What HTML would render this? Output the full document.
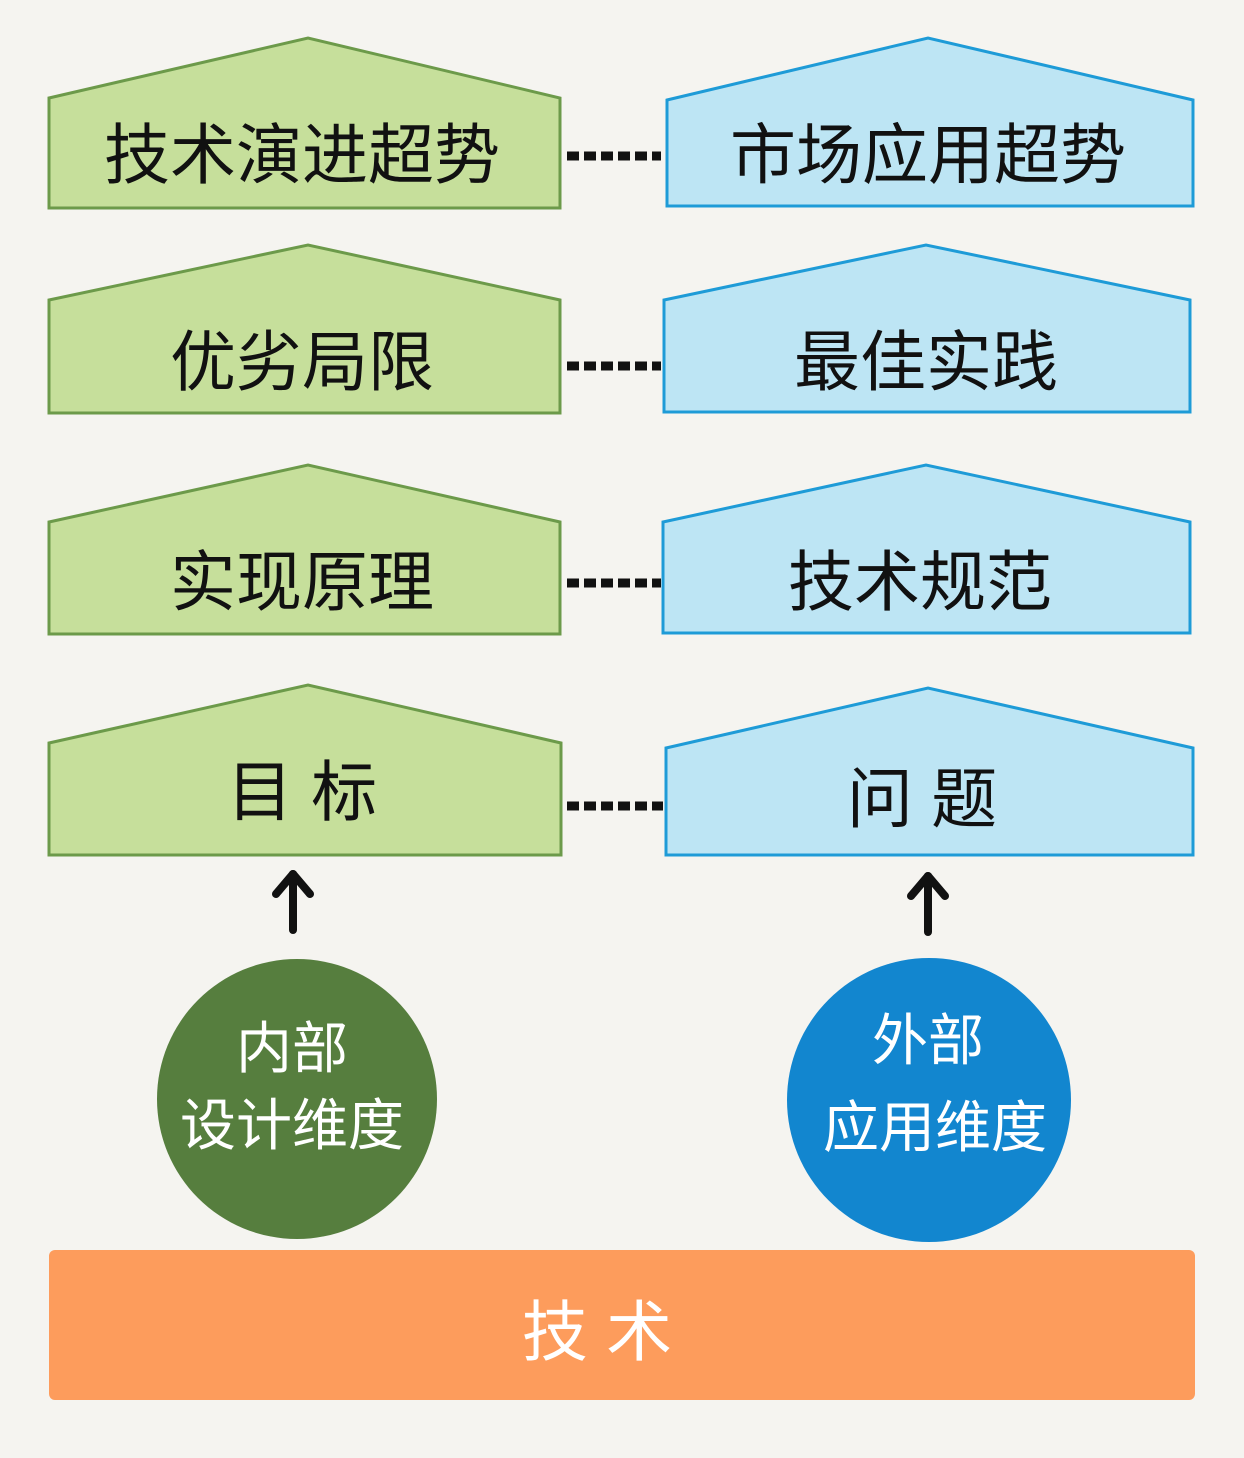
<!DOCTYPE html>
<html><head><meta charset="utf-8"><style>
html,body{margin:0;padding:0;background:#f5f4f0;}
svg{display:block}
text{font-family:"Liberation Sans","Noto Sans CJK SC",sans-serif;text-anchor:middle;}
</style></head><body>
<svg width="1244" height="1458" viewBox="0 0 1244 1458" xmlns="http://www.w3.org/2000/svg">
<rect width="1244" height="1458" fill="#f5f4f0"/>
<g stroke="#6c9a4a" stroke-width="3" fill="#c6df9b">
<polygon points="49,98 308,38 560,98 560,208 49,208"/>
<polygon points="49,300 308,245 560,300 560,413 49,413"/>
<polygon points="49,522 308,465 560,522 560,634 49,634"/>
<polygon points="49,743 308,685 561,743 561,855 49,855"/>
</g>
<g stroke="#1e9bd7" stroke-width="3" fill="#bde5f4">
<polygon points="667,100 928,38 1193,100 1193,206 667,206"/>
<polygon points="664,300 926,245 1190,300 1190,412 664,412"/>
<polygon points="663,522 926,465 1190,522 1190,633 663,633"/>
<polygon points="666,748 928,688 1193,748 1193,855 666,855"/>
</g>
<g stroke="#111" stroke-width="9" stroke-dasharray="12,5" fill="none">
<line x1="567" y1="156" x2="661" y2="156"/>
<line x1="567" y1="366" x2="661" y2="366"/>
<line x1="567" y1="583" x2="661" y2="583"/>
<line x1="567" y1="806" x2="663" y2="806"/>
</g>
<g stroke="#111" stroke-width="8" stroke-linecap="round" stroke-linejoin="round" fill="none">
<line x1="293" y1="930" x2="293" y2="874"/><polyline points="276,894 293,874 310,894"/>
<line x1="928" y1="932" x2="928" y2="876"/><polyline points="911,896 928,876 945,896"/>
</g>
<circle cx="297" cy="1099" r="140" fill="#567e3e"/>
<circle cx="929" cy="1100" r="142" fill="#1286cf"/>
<rect x="49" y="1250" width="1146" height="150" rx="6" fill="#fd9c5c"/>
<g fill="#111" font-size="66">
<text x="302" y="178">技术演进超势</text>
<text x="928" y="178">市场应用超势</text>
<text x="302" y="385">优劣局限</text>
<text x="926" y="385">最佳实践</text>
<text x="302" y="605">实现原理</text>
<text x="920" y="605">技术规范</text>
<text x="302" y="815">目 标</text>
<text x="922" y="822">问 题</text>
</g>
<g fill="#fff" font-size="56">
<text x="292" y="1068">内部</text>
<text x="292" y="1145">设计维度</text>
<text x="928" y="1060">外部</text>
<text x="935" y="1147">应用维度</text>
<text x="597" y="1355" font-size="66">技 术</text>
</g>
</svg>
</body></html>
